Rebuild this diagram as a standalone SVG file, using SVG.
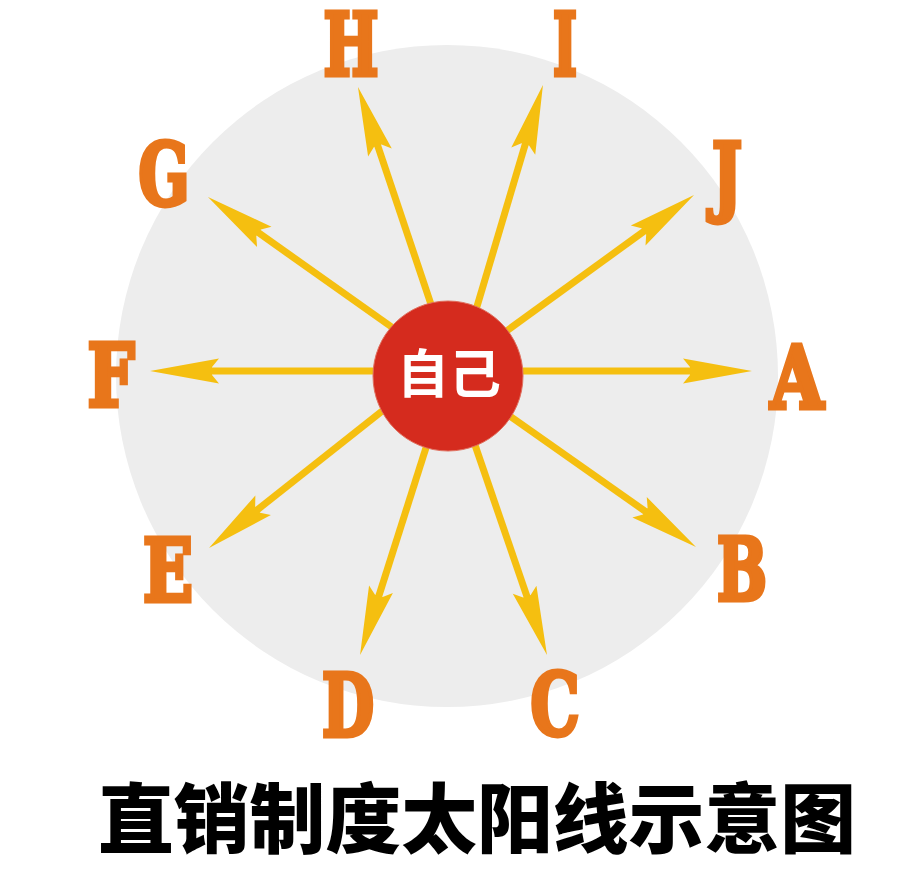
<svg xmlns="http://www.w3.org/2000/svg" width="918" height="874" viewBox="0 0 918 874">
<defs>
<style>
.lbl{font-family:"DejaVu Serif","Liberation Serif",serif;font-weight:bold;font-size:86px;fill:#e8761b;text-anchor:middle;stroke:#e8761b;stroke-width:5;stroke-linejoin:miter}
.shaft{stroke:#f5bf10;stroke-width:7;fill:none}
.title{font-family:"Noto Sans CJK SC","Noto Sans",sans-serif;font-weight:900;font-size:76px;fill:#000;text-anchor:middle}
.me{font-family:"Noto Sans CJK SC","Noto Sans",sans-serif;font-weight:bold;font-size:52px;fill:#fff;text-anchor:middle}
</style>
<marker id="head" markerUnits="userSpaceOnUse" markerWidth="80" markerHeight="30" refX="0" refY="0" orient="auto" overflow="visible" viewBox="-30 -15 80 30">
<path d="M45,0 L-24,-12.5 L-17,-4 L-17,4 L-24,12.5 Z" fill="#f5bf10"/>
</marker>
</defs>
<rect width="918" height="874" fill="#ffffff"/>
<circle id="bg" cx="447" cy="376" r="331" fill="#ededed"/>
<g id="connectors">
<line class="shaft" x1="480" y1="371" x2="707" y2="371" marker-end="url(#head)"/>
<line class="shaft" x1="490" y1="402" x2="659.2" y2="521.1" marker-end="url(#head)"/>
<line class="shaft" x1="463" y1="410" x2="532.4" y2="612.4" marker-end="url(#head)"/>
<line class="shaft" x1="438" y1="410" x2="373.7" y2="612.1" marker-end="url(#head)"/>
<line class="shaft" x1="410" y1="389" x2="244.3" y2="520.1" marker-end="url(#head)"/>
<line class="shaft" x1="420" y1="371" x2="195" y2="371" marker-end="url(#head)"/>
<line class="shaft" x1="410" y1="340" x2="244.7" y2="223" marker-end="url(#head)"/>
<line class="shaft" x1="443" y1="340" x2="372.3" y2="129.7" marker-end="url(#head)"/>
<line class="shaft" x1="467" y1="340" x2="530.1" y2="128.1" marker-end="url(#head)"/>
<line class="shaft" x1="490" y1="343" x2="657.6" y2="221.4" marker-end="url(#head)"/>
</g>
<g id="center">
<circle cx="448" cy="376" r="75" fill="#d52b1e" stroke="#e0705f" stroke-width="1"/>
<text class="me" x="449" y="393">自己</text>
</g>
<g id="node-A"><text class="lbl" x="797" y="407.5" textLength="53" lengthAdjust="spacingAndGlyphs">A</text></g>
<g id="node-B"><text class="lbl" x="742" y="599.5" textLength="50" lengthAdjust="spacingAndGlyphs">B</text></g>
<g id="node-C"><text class="lbl" x="555" y="734.5" textLength="49" lengthAdjust="spacingAndGlyphs">C</text></g>
<g id="node-D"><text class="lbl" x="348" y="735.5" textLength="52" lengthAdjust="spacingAndGlyphs">D</text></g>
<g id="node-E"><text class="lbl" x="168" y="600.5" textLength="50" lengthAdjust="spacingAndGlyphs">E</text></g>
<g id="node-F"><text class="lbl" x="111" y="405.5" textLength="47" lengthAdjust="spacingAndGlyphs">F</text></g>
<g id="node-G"><text class="lbl" x="164" y="204.5" textLength="51" lengthAdjust="spacingAndGlyphs">G</text></g>
<g id="node-H"><text class="lbl" x="351" y="74.5" textLength="55" lengthAdjust="spacingAndGlyphs">H</text></g>
<g id="node-I"><text class="lbl" x="565" y="74.5" textLength="24" lengthAdjust="spacingAndGlyphs">I</text></g>
<g id="node-J"><text class="lbl" x="727" y="204.5" textLength="30" lengthAdjust="spacingAndGlyphs">J</text></g>
<g id="title"><text class="title" x="477" y="847" textLength="758" lengthAdjust="spacingAndGlyphs">直销制度太阳线示意图</text></g>
</svg>
